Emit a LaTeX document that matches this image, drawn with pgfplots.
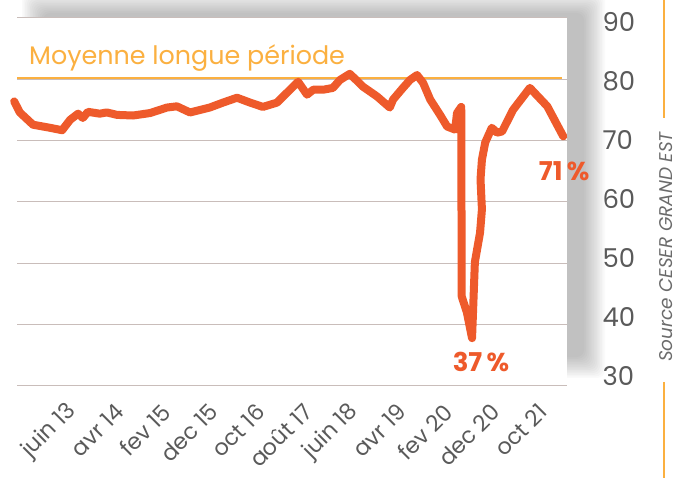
\documentclass[border=0pt]{standalone}
\usepackage{fontspec}
\setmainfont{Poppins}
\usepackage{pgfplots}
\pgfplotsset{compat=1.18}
\definecolor{lineor}{HTML}{EE5A2B}
\definecolor{avgor}{HTML}{FBB040}
\definecolor{gridc}{HTML}{C9BDBA}
\definecolor{tickc}{HTML}{5A5A5A}
\definecolor{srcc}{HTML}{6B6B6B}
\begin{document}
\begin{tikzpicture}[x=1bp,y=1bp]
\path[use as bounding box] (0,0) rectangle (677,478);
\clip (0,0) rectangle (677,478);
\foreach \i in {0,...,13} {
  \fill[black, opacity=0.02, rounded corners=8bp] (22+1.6*\i, 100+1.6*\i) rectangle (605-1.6*\i, 486-1.6*\i);
}
\begin{axis}[
  at={(17bp,92bp)}, anchor=south west,
  scale only axis, width=550bp, height=368bp,
  xmin=-11.9, xmax=105.1, ymin=30, ymax=90,
  axis line style={draw=none},
  axis background/.style={fill=white},
  major tick length=0pt,
  ytick={30,40,...,90}, yticklabel pos=right,
  ymajorgrids, grid style={gridc, line width=1bp},
  xtick={0,10,...,100},
  xticklabels={juin 13,avr 14,fev 15,dec 15,oct 16,août 17,juin 18,avr 19,fev 20,dec 20,oct 21},
  xticklabel shift=22bp,
  xticklabel style={font=\fontsize{22.5}{22.5}\selectfont, text=tickc, rotate=45, anchor=east, inner sep=0pt},
  yticklabel style={font=\fontsize{26}{26}\selectfont, text=tickc, anchor=west, xshift=32bp, yshift={10bp-2.33bp*\ticknum}},
  /pgf/number format/assume math mode=true,
  clip=false,
]
\addplot[avgor, line width=2bp] coordinates {(-11.9,80.2) (104.0,80.2)};
\addplot[lineor, line width=8bp, line join=round, line cap=round] coordinates {
(-12.5,76.4) (-11.3,74.6) (-8.5,72.6) (-4.9,72.1) (-2.3,71.7) (-0.6,73.4)
(1.1,74.4) (2.1,73.7) (3.2,74.7) (5.7,74.4) (7.2,74.6) (9.4,74.2)
(12.8,74.1) (16.4,74.5) (20.0,75.4) (22.1,75.6) (24.9,74.6) (29.1,75.4)
(31.9,76.2) (34.9,77.0) (37.7,76.2) (40.4,75.5) (43.4,76.2) (45.5,77.8)
(47.9,79.6) (49.8,77.5) (51.1,78.3) (53.2,78.3) (55.3,78.6) (56.8,79.9)
(58.9,80.9) (61.7,78.8) (64.7,77.2) (67.4,75.4) (68.1,76.7) (70.2,78.6)
(71.7,79.9) (73.2,80.7) (74.5,79.4) (76.0,76.7) (78.1,74.2) (79.6,72.3)
(81.3,71.8) (81.7,74.5) (82.6,75.5) (82.7,44.6) (83.8,42.0) (84.9,37.8)
(85.5,50.2) (86.6,55.0) (87.0,58.8) (86.7,63.7) (87.0,66.9) (87.7,69.7)
(89.1,72.1) (90.2,71.3) (91.3,71.5) (93.6,75.0) (97.2,78.6) (100.9,75.6)
(104.3,70.7)
};
\node[anchor=base west, inner sep=0pt, text=avgor, font=\fontsize{25.5}{25.5}\selectfont] at (axis cs:-9.36,82.4) {Moyenne longue période};
\node[text=lineor, font=\fontsize{26}{26}\selectfont\bfseries] at (axis cs:104.5,64.96) {71\,\%};
\node[text=lineor, font=\fontsize{26}{26}\selectfont\bfseries] at (axis cs:86.8,33.9) {37\,\%};
\end{axis}
\draw[avgor, line width=2.5bp] (664,478) -- (664,360);
\draw[avgor, line width=2.5bp] (664,96) -- (664,0);
\node[rotate=90, text=srcc, font=\fontsize{18.5}{18.5}\selectfont\itshape, inner sep=0pt] at (666,231) {Source CESER GRAND EST};
\end{tikzpicture}
\end{document}
